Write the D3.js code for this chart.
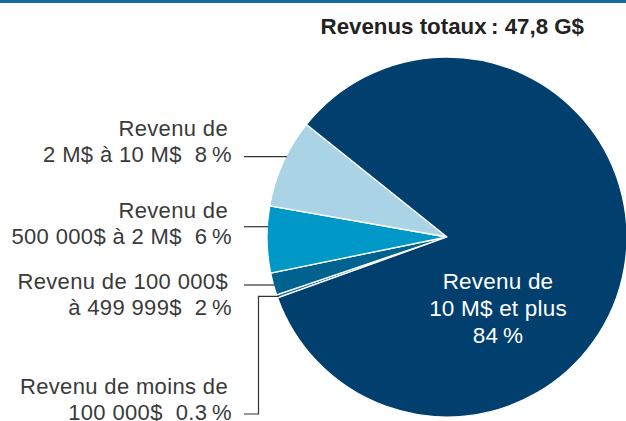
<!DOCTYPE html>
<html>
<head>
<meta charset="utf-8">
<script src="https://cdn.jsdelivr.net/npm/d3@7"></script>
<style>
  html, body { margin: 0; padding: 0; background: #fff; }
  svg { display: block; font-family: "Liberation Sans", Arial, sans-serif; }
  svg text { white-space: pre; }
</style>
</head>
<body>
<div id="chart"></div>
<script>
// slice order runs clockwise from the thin slice at lower left
const categories = ['moins100k', '100kA500k', '500kA2M', '2MA10M', 'plus10M'];
const shares = [0.3, 2, 6, 8, 84];
const sliceColors = ['#1f74a8', '#00628f', '#0098c6', '#aad4e6', '#003f6e'];
const labelLines = [
  ['Revenu de moins de', '100 000$  0.3\u2009%'],
  ['Revenu de 100 000$', 'à 499 999$  2\u2009%'],
  ['Revenu de', '500 000$ à 2 M$  6\u2009%'],
  ['Revenu de', '2 M$ à 10 M$  8\u2009%'],
  ['Revenu de', '10 M$ et plus', '84\u2009%']
];
const title = 'Revenus totaux\u2009: 47,8 G$';

const width = 626, height = 421;
const cx = 447, cy = 237, radius = 180;

const svg = d3.select('#chart').append('svg')
  .attr('width', width)
  .attr('height', height);

svg.append('rect')
  .attr('x', 0).attr('y', 0)
  .attr('width', width).attr('height', 3)
  .attr('fill', '#166a9e');

svg.append('text')
  .attr('x', 584)
  .attr('y', 34)
  .attr('text-anchor', 'end')
  .attr('font-size', 22.3)
  .attr('font-weight', 'bold')
  .attr('fill', '#222')
  .text(title);

const start = 250.2 * Math.PI / 180;
const pie = d3.pie().sort(null).value(d => d.value)
  .startAngle(start).endAngle(start + 2 * Math.PI);
const arc = d3.arc().innerRadius(0).outerRadius(radius);

const data = categories.map((c, i) => ({ key: c, value: shares[i], color: sliceColors[i] }));
const arcs = pie(data);

const g = svg.append('g').attr('transform', `translate(${cx},${cy})`);
g.selectAll('path')
  .data(arcs)
  .enter().append('path')
  .attr('d', arc)
  .attr('fill', d => d.data.color)
  .attr('stroke', '#fff')
  .attr('stroke-width', 1.3)
  .attr('stroke-linejoin', 'round');

// edge point of the pie at a given y on the left side
const edgeX = y => cx - Math.sqrt(radius * radius - (y - cy) * (y - cy));

// outside labels: right aligned text, leader line from text to pie edge
const outside = [
  { i: 3, base: 135.7, x1: 228, x2: 232, leadY: 156.7 },
  { i: 2, base: 218.3, x1: 228, x2: 232, leadY: 226.7 },
  { i: 1, base: 289, x1: 228, x2: 232, leadY: 285 },
  { i: 0, base: 393.5, x1: 228, x2: 232, leadY: 414 }
];

const lab = svg.append('g')
  .attr('font-size', 22)
  .attr('letter-spacing', 0.35)
  .attr('fill', '#3a3a3a')
  .attr('text-anchor', 'end');

outside.forEach(o => {
  const lines = labelLines[o.i];
  lines.forEach((t, k) => {
    lab.append('text')
      .attr('x', k === 0 ? o.x1 : o.x2)
      .attr('y', o.base + k * 26)
      .text(t);
  });
});

const leaders = svg.append('g')
  .attr('fill', 'none')
  .attr('stroke', '#333')
  .attr('stroke-width', 1.2);

outside.filter(o => o.i !== 0).forEach(o => {
  leaders.append('line')
    .attr('x1', 244).attr('x2', edgeX(o.leadY) + 1)
    .attr('y1', o.leadY).attr('y2', o.leadY);
});

// thin slice gets an elbow leader
const thin = arcs[0];
const mid = (thin.startAngle + thin.endAngle) / 2;
const tipY = cy - Math.cos(mid) * radius;
const tipX = cx + Math.sin(mid) * radius;
leaders.append('path')
  .attr('d', d3.line()([[244, 414], [258.5, 414], [258.5, tipY], [tipX + 2, tipY]]));

// inner label for the big slice
const inner = svg.append('g')
  .attr('font-size', 22.5)
  .attr('letter-spacing', 0.2)
  .attr('fill', '#fff')
  .attr('text-anchor', 'middle');
labelLines[4].forEach((t, k) => {
  inner.append('text')
    .attr('x', 498)
    .attr('y', 288.5 + k * 27)
    .text(t);
});
</script>
</body>
</html>
